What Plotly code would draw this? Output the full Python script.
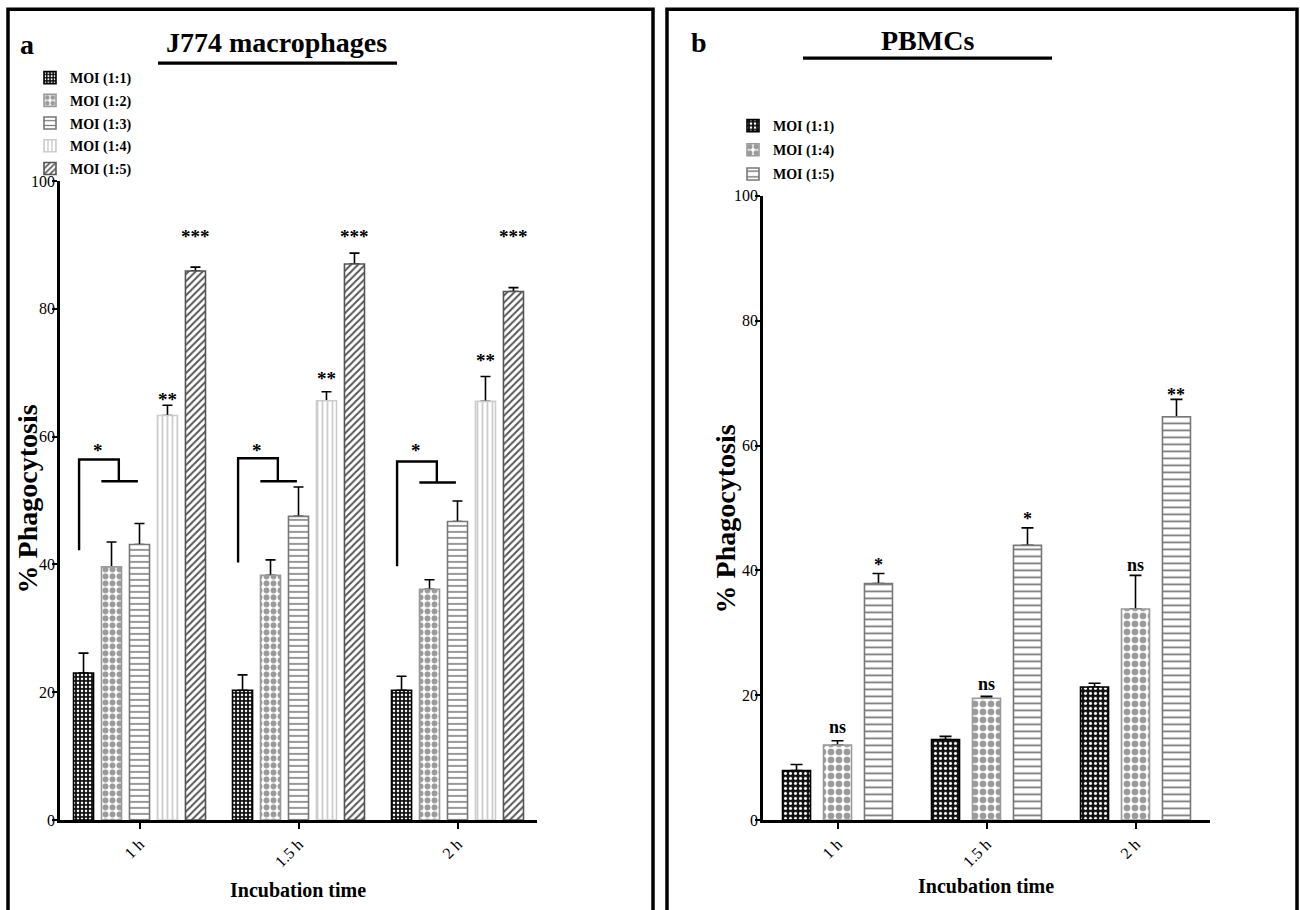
import plotly.graph_objects as go

W, H = 1300, 910
SERIF = "Liberation Serif, Times New Roman, serif"

# ---------------------------------------------------------------- data
times = ["1 h", "1.5 h", "2 h"]
time_pos = [0, 1, 2]

# J774 macrophages: mean % phagocytosis and SEM for each MOI
j774_names = ["MOI (1:1)", "MOI (1:2)", "MOI (1:3)", "MOI (1:4)", "MOI (1:5)"]
j774_moi_1_1 = [23.0, 20.3, 20.3]
j774_moi_1_2 = [39.6, 38.3, 36.1]
j774_moi_1_3 = [43.1, 47.5, 46.7]
j774_moi_1_4 = [63.3, 65.6, 65.5]
j774_moi_1_5 = [85.9, 87.0, 82.7]
j774_sem_1_1 = [3.1, 2.4, 2.2]
j774_sem_1_2 = [3.9, 2.4, 1.5]
j774_sem_1_3 = [3.3, 4.6, 3.2]
j774_sem_1_4 = [1.6, 1.4, 3.9]
j774_sem_1_5 = [0.6, 1.7, 0.6]

# PBMCs: mean % phagocytosis and SEM for each MOI
pbmc_names = ["MOI (1:1)", "MOI (1:4)", "MOI (1:5)"]
pbmc_moi_1_1 = [7.9, 12.9, 21.3]
pbmc_moi_1_4 = [12.0, 19.5, 33.8]
pbmc_moi_1_5 = [37.9, 44.0, 64.6]
pbmc_sem_1_1 = [1.0, 0.5, 0.6]
pbmc_sem_1_4 = [0.7, 0.3, 5.4]
pbmc_sem_1_5 = [1.6, 2.8, 2.8]

# significance marks (label text and label height in % units)
j774_sig_1_4 = ["**", "**", "**"]
j774_sig_1_4_y = [66.3, 69.5, 72.3]
j774_sig_1_5 = ["***", "***", "***"]
j774_sig_1_5_y = [92.0, 92.0, 92.0]
j774_bracket_sig = ["*", "*", "*"]
j774_bracket_sig_y = [58.3, 58.3, 58.3]
j774_bracket_low = [42.2, 40.3, 39.7]
j774_bracket_high = [56.4, 56.6, 56.1]
j774_bracket_mid = [53.0, 53.0, 52.8]

pbmc_sig_1_4 = ["ns", "ns", "ns"]
pbmc_sig_1_4_y = [14.9, 21.8, 40.8]
pbmc_sig_1_5 = ["*", "*", "**"]
pbmc_sig_1_5_y = [41.5, 48.8, 68.8]

# ---------------------------------------------------------------- styles
CHECK_DARK = dict(shape=".", fg="#ffffff", bg="#111111", size=4, sol=0.3, line="#000000")
CHECK_GREY = dict(shape=".", fg="#9a9a9a", bg="#ffffff", size=7, sol=0.55, line="#9a9a9a")
HLINES = dict(shape="-", fg="#777777", bg="#ffffff", size=6, sol=0.25, line="#777777")
VLINES = dict(shape="|", fg="#cccccc", bg="#ffffff", size=5, sol=0.35, line="#cccccc")
DIAG = dict(shape="/", fg="#555555", bg="#ffffff", size=5, sol=0.4, line="#555555")

j774_styles = [CHECK_DARK, CHECK_GREY, HLINES, VLINES, DIAG]
pbmc_styles = [dict(CHECK_DARK, size=5), dict(CHECK_GREY, size=8), dict(HLINES, size=7)]

j774_width, j774_slot = 0.126, 0.176
pbmc_width, pbmc_slot = 0.188, 0.275

# page layout is planned on a 926 px tall sheet whose first 8 px are page margin
SHEET_SCALE = 910 / 926
SHEET_TOP = 8


def px(x):
    return x / W


def py(y):
    fig_y = y / SHEET_SCALE - SHEET_TOP
    return 1 - fig_y / H


fig = go.Figure()


def add_series(x, y, sem, name, style, center, width, xa, ya, legend, cap):
    off = center - width / 2
    # error bars sit in a transparent layer below the patterned bars
    fig.add_trace(go.Bar(
        x=x, y=y, width=width, offset=off, xaxis=xa, yaxis=ya,
        marker=dict(color="rgba(0,0,0,0)", line=dict(width=0)),
        error_y=dict(type="data", array=sem, arrayminus=[0] * len(sem),
                     symmetric=False, color="#000000", thickness=1.6, width=cap),
        showlegend=False, hoverinfo="skip", legendgroup=legend + name,
    ))
    fig.add_trace(go.Bar(
        x=x, y=y, width=width, offset=off, xaxis=xa, yaxis=ya, name="<b>%s</b>" % name,
        legend=legend, legendgroup=legend + name,
        marker=dict(
            color=style["bg"],
            line=dict(color=style["line"], width=1.6),
            pattern=dict(shape=style["shape"], fgcolor=style["fg"], bgcolor=style["bg"],
                         size=style["size"], solidity=style["sol"], fillmode="replace"),
        ),
    ))


j774_values = [j774_moi_1_1, j774_moi_1_2, j774_moi_1_3, j774_moi_1_4, j774_moi_1_5]
j774_sems = [j774_sem_1_1, j774_sem_1_2, j774_sem_1_3, j774_sem_1_4, j774_sem_1_5]
for k, (vals, sem) in enumerate(zip(j774_values, j774_sems)):
    add_series(time_pos, vals, sem, j774_names[k], j774_styles[k],
               (k - 2) * j774_slot, j774_width, "x", "y", "legend", 5)

pbmc_values = [pbmc_moi_1_1, pbmc_moi_1_4, pbmc_moi_1_5]
pbmc_sems = [pbmc_sem_1_1, pbmc_sem_1_4, pbmc_sem_1_5]
for k, (vals, sem) in enumerate(zip(pbmc_values, pbmc_sems)):
    add_series(time_pos, vals, sem, pbmc_names[k], pbmc_styles[k],
               (k - 1) * pbmc_slot, pbmc_width, "x2", "y2", "legend2", 6)

# ---------------------------------------------------------------- annotations
ann = []
shapes = []


def label(text, x, y, xref, yref, size, yshift=0):
    ann.append(dict(text=text, x=x, y=y, xref=xref, yref=yref, showarrow=False,
                    xanchor="center", yanchor="middle", yshift=yshift,
                    font=dict(family=SERIF, size=size, color="#000000")))


for i in time_pos:
    label("<b>%s</b>" % j774_sig_1_4[i], i + j774_slot, j774_sig_1_4_y[i], "x", "y", 19, -3)
    label("<b>%s</b>" % j774_sig_1_5[i], i + 2 * j774_slot, j774_sig_1_5_y[i], "x", "y", 19, -4)
    label("<b>%s</b>" % j774_bracket_sig[i], i - 0.26, j774_bracket_sig_y[i], "x", "y", 19, -3)
    xa, xb, xc, xd = i - 0.38, i - 0.13, i - 0.24, i - 0.01
    shapes.append(dict(
        type="path", xref="x", yref="y",
        path="M%f,%f L%f,%f L%f,%f L%f,%f M%f,%f L%f,%f" % (
            xa, j774_bracket_low[i], xa, j774_bracket_high[i],
            xb, j774_bracket_high[i], xb, j774_bracket_mid[i],
            xc, j774_bracket_mid[i], xd, j774_bracket_mid[i]),
        line=dict(color="#000000", width=2.4)))

    label("<b>%s</b>" % pbmc_sig_1_4[i], i, pbmc_sig_1_4_y[i], "x2", "y2", 18, 0)
    label("<b>%s</b>" % pbmc_sig_1_5[i], i + pbmc_slot, pbmc_sig_1_5_y[i], "x2", "y2", 18, -4)

# panel letters, titles and underlines
label("<b>a</b>", px(27), py(44), "paper", "paper", 28)
label("<b>J774 macrophages</b>", px(276), py(42), "paper", "paper", 28)
label("<b>b</b>", px(699), py(42), "paper", "paper", 28)
label("<b>PBMCs</b>", px(928), py(40), "paper", "paper", 28)
shapes.append(dict(type="line", xref="paper", yref="paper", x0=px(158), x1=px(397),
                   y0=py(63), y1=py(63), line=dict(color="#000000", width=3.2)))
shapes.append(dict(type="line", xref="paper", yref="paper", x0=px(803), x1=px(1052),
                   y0=py(58), y1=py(58), line=dict(color="#000000", width=3.2)))

# axis titles
for cx, cy in [(27, 500), (725, 520)]:
    ann.append(dict(text="<b>% Phagocytosis</b>", x=px(cx), y=py(cy), xref="paper", yref="paper",
                    showarrow=False, textangle=-90, xanchor="center", yanchor="middle",
                    font=dict(family=SERIF, size=28, color="#000000")))
label("<b>Incubation time</b>", px(298), py(891), "paper", "paper", 20)
label("<b>Incubation time</b>", px(986), py(887), "paper", "paper", 20)

# panel frames (open at the bottom edge of the sheet)
for x0, x1 in [(8, 653), (667, 1297)]:
    shapes.append(dict(type="rect", xref="paper", yref="paper", x0=px(x0), x1=px(x1),
                       y0=-0.02, y1=1 - 1.2 / H, line=dict(color="#000000", width=3.5)))

# ---------------------------------------------------------------- axes
tickfont = dict(family=SERIF, size=16, color="#000000")
xcommon = dict(range=[-0.5, 2.5], tickmode="array", tickvals=time_pos, ticktext=times,
               tickangle=-45, ticks="outside", ticklen=6, tickwidth=2, tickcolor="#000000",
               showline=True, linewidth=2.5, linecolor="#000000", showgrid=False,
               zeroline=False, tickfont=tickfont, fixedrange=True)
ycommon = dict(range=[0, 100], tickmode="linear", tick0=0, dtick=20, ticks="outside",
               ticklen=5, tickwidth=2, tickcolor="#000000", showline=True, linewidth=2.5,
               linecolor="#000000", showgrid=False, zeroline=False, tickfont=tickfont,
               ticklabelstandoff=-6, fixedrange=True)

legend_common = dict(bgcolor="rgba(0,0,0,0)", borderwidth=0, xanchor="left", yanchor="top",
                     font=dict(family=SERIF, size=14, color="#000000"), itemwidth=30,
                     traceorder="grouped")

fig.update_layout(
    width=W, height=H,
    margin=dict(l=0, r=0, t=0, b=0),
    paper_bgcolor="#ffffff", plot_bgcolor="rgba(0,0,0,0)",
    barmode="overlay", hovermode=False,
    font=dict(family=SERIF, color="#000000"),
    xaxis=dict(xcommon, domain=[px(60), px(537)], anchor="y"),
    yaxis=dict(ycommon, domain=[py(821), py(181)], anchor="x"),
    xaxis2=dict(xcommon, domain=[px(763), px(1210)], anchor="y2"),
    yaxis2=dict(ycommon, domain=[py(821), py(196)], anchor="x2"),
    legend=dict(legend_common, x=px(30), y=py(62), tracegroupgap=1.5),
    legend2=dict(legend_common, x=px(733), y=py(110), tracegroupgap=3),
    annotations=ann, shapes=shapes,
)

fig.write_html("out.html")
